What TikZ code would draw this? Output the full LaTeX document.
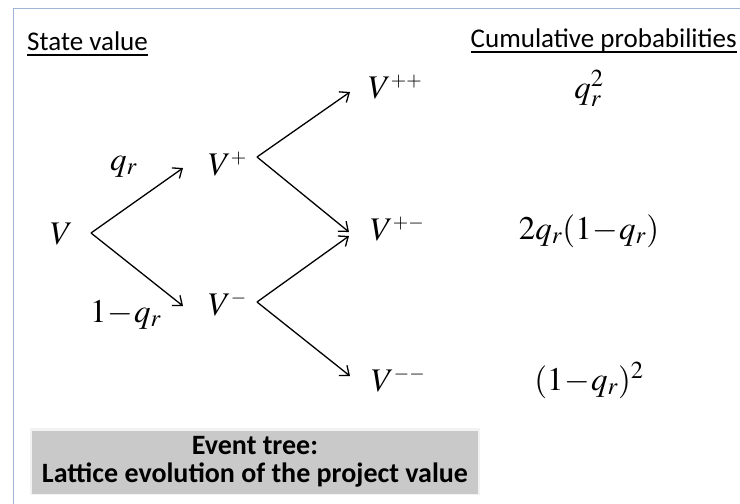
\documentclass[tikz,border=0pt]{standalone}
\usepackage{mathptmx}
\usepackage[no-math]{fontspec}
\setmainfont{Carlito}
\usetikzlibrary{arrows.meta}

\definecolor{framecol}{RGB}{160,180,212}
\definecolor{boxgray}{RGB}{201,201,201}

\newcommand{\up}[1]{^{\scriptscriptstyle #1}}
\newcommand{\mn}{\!-\!}

\tikzset{
  state/.style={inner sep=0pt, anchor=base west, font=\fontsize{33}{36}\selectfont},
  prob/.style={inner sep=0pt, anchor=base, font=\fontsize{33}{36}\selectfont},
  head/.style={inner sep=0pt, font=\fontsize{27}{30}\selectfont},
  underl/.style={line width=1.2pt},
  branch/.style={-{Straight Barb[length=8pt,width=13pt]}, line width=1.3pt},
  evbox/.style={fill=boxgray, minimum width=446pt, minimum height=63pt, align=center,
    font=\fontsize{28}{28.5}\selectfont\bfseries},
}

\begin{document}
\begin{tikzpicture}[x=1pt, y=-1pt]
    % page size in pixels of the slide
    \useasboundingbox (0,0) rectangle (740,504);

    % 1. Slide frame
    \draw[framecol, line width=1pt] (13,504) -- (13,8) -- (740,8);

    % 2. Headings
    \node[head, anchor=base west] (hstate) at (27,50) {State value};
    \node[head, anchor=base east] (hprob) at (737,47) {Cumulative probabilities};
    \draw[underl] ([yshift=-5pt]hstate.base west) -- ([yshift=-5pt]hstate.base east);
    \draw[underl] ([yshift=-5pt]hprob.base west) -- ([yshift=-5pt]hprob.base east);

    % 3. States of the lattice
    \node[state] (v)   at (50,244)  {$V$};
    \node[state] (vp)  at (208,175) {$V\up{+}$};
    \node[state] (vm)  at (208,315) {$V\up{-}$};
    \node[state] (vpp) at (368,98)  {$V\up{++}$};
    \node[state] (vpm) at (370,240) {$V\up{+-}$};
    \node[state] (vmm) at (371,391) {$V\up{--}$};

    % 4. Branches
    \draw[branch] ([shift={(41,-11)}]v.base west) -- ([shift={(-25,-7)}]vp.base west);
    \draw[branch] ([shift={(41,-11)}]v.base west) -- ([shift={(-25,-9)}]vm.base west);
    \draw[branch] ([shift={(49,-18)}]vp.base west) -- ([shift={(-18,-6)}]vpp.base west);
    \draw[branch] ([shift={(49,-18)}]vp.base west) -- ([shift={(-21,-8)}]vpm.base west);
    \draw[branch] ([shift={(49,-13)}]vm.base west) -- ([shift={(-21,-4)}]vpm.base west);
    \draw[branch] ([shift={(49,-13)}]vm.base west) -- ([shift={(-21,-15)}]vmm.base west);

    % 5. Branch probabilities
    \node[state] (qup)   at (110,170) {$q_r$};
    \node[state] (qdown) at (90,322)  {$1\mn q_r$};

    % 6. Cumulative probabilities
    \node[prob] (pvpp) at (589,98)  {$q_r^2$};
    \node[prob] (pvpm) at (589,239) {$2q_r(1\mn q_r)$};
    \node[prob] (pvmm) at (589,390) {$(1\mn q_r)^2$};

    % 7. Caption box
    \draw[boxgray!60, line width=4pt, opacity=0.4] (32,430) rectangle (478,493);
    \node[evbox] (caption) at (255,462) {Event tree:\\Lattice evolution of the project value};
\end{tikzpicture}
\end{document}
